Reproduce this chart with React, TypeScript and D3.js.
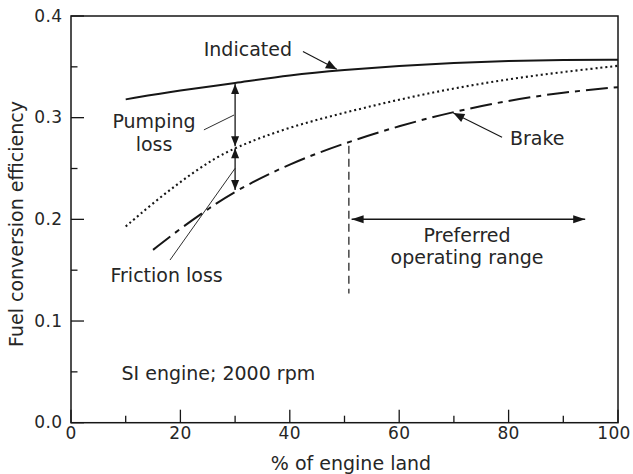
import React from 'react';
import * as d3 from 'd3';

// ---- data ----
const indicatedLoad = [10, 20, 30, 40, 50, 60, 70, 80, 90, 100];
const indicatedEff = [0.318, 0.327, 0.334, 0.342, 0.347, 0.351, 0.354, 0.356, 0.357, 0.357];

const mechLoad = [10, 15, 20, 25, 30, 40, 50, 60, 70, 80, 90, 100];
const mechEff = [0.193, 0.216, 0.237, 0.256, 0.271, 0.291, 0.305, 0.318, 0.329, 0.338, 0.345, 0.351];

const brakeLoad = [15, 20, 25, 30, 40, 50, 60, 70, 80, 90, 100];
const brakeEff = [0.170, 0.191, 0.210, 0.228, 0.255, 0.275, 0.292, 0.306, 0.317, 0.325, 0.330];

const xMajorTicks = [0, 20, 40, 60, 80, 100];
const xMinorTicks = [10, 30, 50, 70, 90];
const yMajorTicks = [0, 0.1, 0.2, 0.3, 0.4];
const yMinorTicks = [0.05, 0.15, 0.25, 0.35];

const lossLoad = 30; // pumping / friction loss arrows
const rangeStart = 51.3;
const rangeEnd = 94;
const rangeLevel = 0.2;
const rangeLineLoad = 50.8;
const rangeLineBottom = 0.127;

const W = 633;
const H = 474;
const FONT = "'DejaVu Sans', 'Liberation Sans', Arial, sans-serif";
const INK = '#161616';
const TXT = '#262626';

const x = d3.scaleLinear().domain([0, 100]).range([71, 618]);
const y = d3.scaleLinear().domain([0, 0.4]).range([422.7, 16]);

const line = d3
  .line<[number, number]>()
  .x((d) => x(d[0]))
  .y((d) => y(d[1]))
  .curve(d3.curveBasis);

const zip = (a: number[], b: number[]) => a.map((v, i) => [v, b[i]] as [number, number]);

function interp(xs: number[], ys: number[], v: number) {
  for (let i = 0; i < xs.length - 1; i++) {
    if (v >= xs[i] && v <= xs[i + 1]) {
      const t = (v - xs[i]) / (xs[i + 1] - xs[i]);
      return ys[i] + t * (ys[i + 1] - ys[i]);
    }
  }
  return ys[ys.length - 1];
}

function Head({ x1, y1, x2, y2, len = 10, half = 4 }: any) {
  const a = Math.atan2(y2 - y1, x2 - x1);
  const bx = x2 - len * Math.cos(a);
  const by = y2 - len * Math.sin(a);
  const px = -Math.sin(a) * half;
  const py = Math.cos(a) * half;
  return (
    <path
      d={`M${x2},${y2}L${bx + px},${by + py}L${bx - px},${by - py}Z`}
      fill={INK}
      stroke="none"
    />
  );
}

function Arrow({ x1, y1, x2, y2, both = false, len = 10, half = 4, sw = 1.3 }: any) {
  return (
    <g>
      <line x1={x1} y1={y1} x2={x2} y2={y2} stroke={INK} strokeWidth={sw} />
      <Head x1={x1} y1={y1} x2={x2} y2={y2} len={len} half={half} />
      {both && <Head x1={x2} y1={y2} x2={x1} y2={y1} len={len} half={half} />}
    </g>
  );
}

export default function App() {
  const x0 = x(0);
  const x1 = x(100);
  const y0 = y(0);
  const yTop = y(0.4);

  const indAt = interp(indicatedLoad, indicatedEff, lossLoad);
  const mechAt = interp(mechLoad, mechEff, lossLoad);
  const brkAt = interp(brakeLoad, brakeEff, lossLoad);
  const brkRange = interp(brakeLoad, brakeEff, rangeLineLoad);

  const tickFont = { fontFamily: FONT, fontSize: 17, fill: TXT, letterSpacing: 0.4 } as any;
  const annFont = { fontFamily: FONT, fontSize: 19, fill: TXT } as any;

  return (
    <svg
      width={W}
      height={H}
      viewBox={`0 0 ${W} ${H}`}
      style={{ position: 'absolute', left: 0, top: 0, background: '#fff' }}
    >
      <rect x={0} y={0} width={W} height={H} fill="#fff" />

      {/* curves */}
      <path
        d={line(zip(indicatedLoad, indicatedEff)) || ''}
        fill="none"
        stroke={INK}
        strokeWidth={2}
      />
      <path
        d={line(zip(mechLoad, mechEff)) || ''}
        fill="none"
        stroke={INK}
        strokeWidth={2.1}
        strokeDasharray="2,3"
      />
      <path
        d={line(zip(brakeLoad, brakeEff)) || ''}
        fill="none"
        stroke={INK}
        strokeWidth={2}
        strokeDasharray="22,6,5,6"
      />

      {/* preferred operating range */}
      <line
        x1={x(rangeLineLoad)}
        x2={x(rangeLineLoad)}
        y1={y(brkRange) + 4}
        y2={y(rangeLineBottom)}
        stroke={INK}
        strokeWidth={1.2}
        strokeDasharray="8,5"
      />
      <Arrow
        x1={x(rangeStart)}
        y1={y(rangeLevel)}
        x2={x(rangeEnd)}
        y2={y(rangeLevel)}
        both
        len={12}
        half={4}
        sw={1.5}
      />
      <text x={467} y={242} textAnchor="middle" {...annFont}>
        Preferred
      </text>
      <text x={467} y={263.5} textAnchor="middle" {...annFont}>
        operating range
      </text>

      {/* loss arrows */}
      <Arrow x1={x(lossLoad)} y1={y(mechAt) - 1} x2={x(lossLoad)} y2={y(indAt) + 1} both len={10} half={4} />
      <Arrow x1={x(lossLoad)} y1={y(brkAt) - 1} x2={x(lossLoad)} y2={y(mechAt) + 1} both len={10} half={4} />

      {/* leader lines */}
      <line x1={x(24.3)} y1={y(0.288)} x2={x(29.8)} y2={y(0.3026)} stroke={INK} strokeWidth={0.9} />
      <line x1={x(30)} y1={y(0.2502)} x2={x(18.1)} y2={y(0.16)} stroke={INK} strokeWidth={0.9} />
      <Arrow x1={x(42.4)} y1={y(0.365)} x2={x(48.6)} y2={y(0.3476)} len={11} half={4.5} sw={1.1} />
      <Arrow x1={x(78.8)} y1={y(0.2807)} x2={x(69.9)} y2={y(0.3046)} len={11} half={4.5} sw={1.1} />

      {/* annotation text */}
      <text x={292} y={56} textAnchor="end" {...annFont}>
        Indicated
      </text>
      <text x={154} y={128} textAnchor="middle" {...annFont}>
        Pumping
      </text>
      <text x={154} y={150.5} textAnchor="middle" {...annFont}>
        loss
      </text>
      <text x={110.5} y={281.5} {...annFont}>
        Friction loss
      </text>
      <text x={510} y={145} {...annFont}>
        Brake
      </text>
      <text x={121.5} y={379.5} {...annFont}>
        SI engine; 2000 rpm
      </text>

      {/* frame */}
      <rect
        x={x0}
        y={yTop}
        width={x1 - x0}
        height={y0 - yTop}
        fill="none"
        stroke={INK}
        strokeWidth={1.5}
      />

      {/* ticks */}
      {xMajorTicks.map((t) => (
        <g key={'xm' + t}>
          <line x1={x(t)} x2={x(t)} y1={y0} y2={y0 - 13} stroke={INK} strokeWidth={1.3} />
          <text
            x={t === 100 ? Math.min(x(t), W - 19) : x(t)}
            y={438.5}
            textAnchor="middle"
            {...tickFont}
          >
            {t}
          </text>
        </g>
      ))}
      {xMinorTicks.map((t) => (
        <line key={'xn' + t} x1={x(t)} x2={x(t)} y1={y0} y2={y0 - 7} stroke={INK} strokeWidth={1.3} />
      ))}
      {yMajorTicks.map((t) => (
        <g key={'ym' + t}>
          <line x1={x0} x2={x0 + 13} y1={y(t)} y2={y(t)} stroke={INK} strokeWidth={1.3} />
          <text x={62.5} y={y(t) + 5.5} textAnchor="end" {...tickFont}>
            {t.toFixed(1)}
          </text>
        </g>
      ))}
      {yMinorTicks.map((t) => (
        <line key={'yn' + t} x1={x0} x2={x0 + 6.5} y1={y(t)} y2={y(t)} stroke={INK} strokeWidth={1.3} />
      ))}

      {/* axis titles */}
      <text x={351} y={470} textAnchor="middle" fontFamily={FONT} fontSize={19} fill={TXT}>
        % of engine land
      </text>
      <text
        transform="translate(23,224) rotate(-90)"
        textAnchor="middle"
        fontFamily={FONT}
        fontSize={19}
        fill={TXT}
      >
        Fuel conversion efficiency
      </text>
    </svg>
  );
}
